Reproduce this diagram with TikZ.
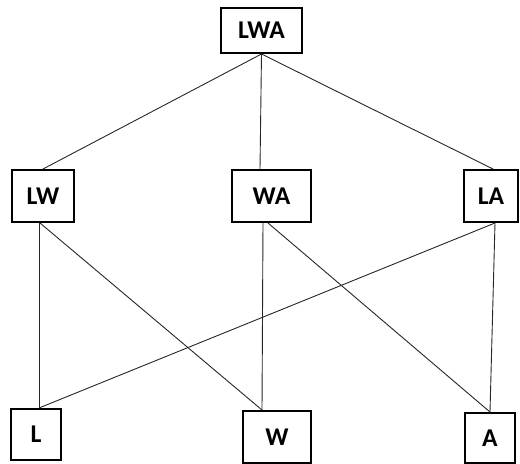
\documentclass[tikz,border=0pt]{standalone}
\usepackage{fontspec}
\setmainfont{Carlito}
\usepackage{tikz}

\tikzset{
  box/.style={draw, line width=1pt, inner sep=0pt, font=\fontsize{12.8}{14}\selectfont\bfseries},
  edge/.style={draw, line width=0.45pt, black!85}
}

\begin{document}
\begin{tikzpicture}[x=0.5pt, y=-0.5pt]
        \useasboundingbox (0, 0) rectangle (520, 464);
        \node[box, minimum width=40.5pt, minimum height=22.5pt] (lwa) at (261.5, 30.5) {LWA};
        \node[box, minimum width=31pt, minimum height=26pt] (lw) at (43, 196) {LW};
        \node[box, minimum width=39.5pt, minimum height=26pt] (wa) at (271.5, 196) {WA};
        \node[box, minimum width=27pt, minimum height=26pt] (la) at (491, 196) {LA};
        \node[box, minimum width=25pt, minimum height=25.5pt] (l) at (36, 434.5) {L};
        \node[box, minimum width=34pt, minimum height=26pt] (w) at (277, 437) {W};
        \node[box, minimum width=25pt, minimum height=25pt] (a) at (490, 438) {A};

        % top level
        \draw[edge] (lwa.south) -- (lw.north);
        \draw[edge] (lwa.south) -- ([xshift=-5.75pt]wa.north);
        \draw[edge] (lwa.south) -- ([xshift=1pt]la.north);

        % bottom level
        \draw[edge] ([xshift=-2pt]lw.south) -- ([xshift=1.5pt]l.north);
        \draw[edge] ([xshift=-1.5pt]lw.south) -- ([xshift=-7.5pt]w.north);
        \draw[edge] ([xshift=-4.25pt]wa.south) -- ([xshift=-7.5pt]w.north);
        \draw[edge] ([xshift=-1.75pt]wa.south) -- (a.north);
        \draw[edge] ([xshift=2pt]la.south) -- ([xshift=1.5pt]l.north);
        \draw[edge] ([xshift=2pt]la.south) -- (a.north);
\end{tikzpicture}
\end{document}
